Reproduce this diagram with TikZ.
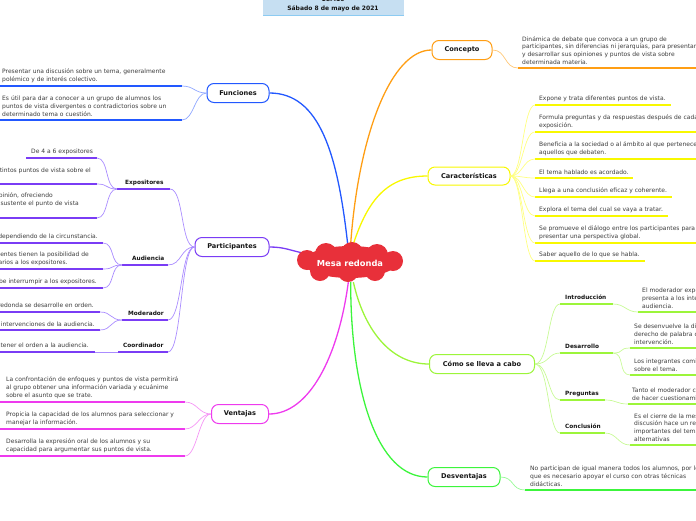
\documentclass[tikz,border=0pt]{standalone}
\usepackage{fontspec}
\setmainfont{DejaVu Sans}
\usetikzlibrary{shapes.geometric, backgrounds}

\definecolor{txtgray}{HTML}{3C3C3C}
\definecolor{titlec}{HTML}{151515}
\definecolor{headfill}{HTML}{C6DFF2}
\definecolor{headline}{HTML}{8CCBF2}
\definecolor{cloudred}{HTML}{E8303A}
\definecolor{funblue}{HTML}{2258FF}
\definecolor{funlink}{HTML}{8EA6FF}
\definecolor{conorange}{HTML}{FF9E14}
\definecolor{conlink}{HTML}{FFC878}
\definecolor{caryellow}{HTML}{F8F800}
\definecolor{carlink}{HTML}{FFFF80}
\definecolor{comolime}{HTML}{9CF53A}
\definecolor{comolink}{HTML}{C8FA96}
\definecolor{desgreen}{HTML}{3CF53C}
\definecolor{deslink}{HTML}{96FA96}
\definecolor{parpurple}{HTML}{7A3CF5}
\definecolor{parlink}{HTML}{AA8CFF}
\definecolor{venmag}{HTML}{EE3AEE}
\definecolor{venlink}{HTML}{F596F5}

\begin{document}
\begin{tikzpicture}[x=1pt, y=-1pt,
    topic/.style={draw, fill=white, rounded corners=7pt, line width=1pt, minimum height=19pt, inner sep=2pt, font=\bfseries\fontsize{6.6}{8}\selectfont, text=titlec},
    sublabel/.style={font=\bfseries\fontsize{5.8}{7}\selectfont, text=titlec, inner sep=0pt, anchor=base west},
    item/.style={font=\fontsize{6}{7.7}\selectfont, text=txtgray, align=left, inner sep=0pt},
    uline/.style={line width=1.6pt},
    link/.style={line width=0.7pt},
    branch/.style={line width=1.3pt}]
    \useasboundingbox (0,0) rectangle (696,520);

    % cabecera
    \fill[headfill] (263,-2) rectangle (404,15);
    \draw[headline, line width=1.6pt] (263,15.5) -- (404,15.5);
    \node[font=\bfseries\fontsize{6}{7}\selectfont, text=titlec, inner sep=0pt] (grupo) at (333,-0.6) {1CM10};
    \node[font=\bfseries\fontsize{6}{7}\selectfont, text=titlec, inner sep=0pt] (fecha) at (333,9) {Sábado 8 de mayo de 2021};

    % tema central
    \fill[cloudred] (350,262) ellipse [x radius=47, y radius=16];
    \foreach \cx/\cy/\r in {326/254/11, 352/253/11, 377/255/11, 307/260/10, 393/261/10,
        320/271/10, 348/272/10, 375/271/10} {
      \fill[cloudred] (\cx,\cy) circle [radius=\r];
    }
    \node[ellipse, minimum width=104pt, minimum height=38pt, inner sep=0pt, font=\bfseries\fontsize{8.3}{10}\selectfont, text=white] (mesa) at (350,263) {Mesa redonda};

    % ramas principales
    \node[topic, draw=funblue, minimum width=62pt] (fun) at (238,93) {Funciones};
    \node[topic, draw=conorange, minimum width=60pt] (con) at (462,50) {Concepto};
    \node[topic, draw=caryellow, minimum width=82pt, minimum height=18pt] (car) at (469,176) {Características};
    \node[topic, draw=parpurple, minimum width=74pt] (par) at (232,247) {Participantes};
    \node[topic, draw=comolime, minimum width=105pt] (como) at (482,364) {Cómo se lleva a cabo};
    \node[topic, draw=venmag, minimum width=57pt] (ven) at (240,414) {Ventajas};
    \node[topic, draw=desgreen, minimum width=72pt] (des) at (464,477) {Desventajas};

    \begin{scope}[on background layer]
      \draw[branch, funblue] (mesa.97) .. controls +(-10,-90) and +(50,0) .. (fun.east);
      \draw[branch, conorange] (mesa.88) .. controls +(8,-110) and +(-40,0) .. (con.west);
      \draw[branch, caryellow] (mesa.80) .. controls +(15,-45) and +(-40,0) .. (car.west);
      \draw[branch, parpurple] (mesa.168) .. controls +(-15,-3) and +(15,0) .. (par.east);
      \draw[branch, venmag] (mesa.-95) .. controls +(-10,75) and +(40,0) .. (ven.east);
      \draw[branch, comolime] (mesa.-80) .. controls +(10,45) and +(-40,0) .. (como.west);
      \draw[branch, desgreen] (mesa.-88) .. controls +(0,110) and +(-50,0) .. (des.west);
    \end{scope}

    % Funciones
    \foreach \n/\y/\t in {1/86/{Presentar una discusión sobre un tema, generalmente\\polémico y de interés colectivo.},
        2/120/{Es útil para dar a conocer a un grupo de alumnos los\\puntos de vista divergentes o contradictorios sobre un\\determinado tema o cuestión.}} {
      \coordinate (fun\n a) at (-2,\y);
      \coordinate (fun\n b) at (182,\y);
      \draw[uline, funblue] (fun\n a) -- (fun\n b);
      \node[item, anchor=south west] (funtxt\n) at ([xshift=4pt, yshift=3.5pt]fun\n a) {\t};
      \draw[link, funlink] (fun.west) .. controls +(-12,0) and +(12,0) .. (fun\n b);
    }

    % Concepto
    \coordinate (con1a) at (518,68);
    \coordinate (con1b) at (700,68);
    \draw[uline, conorange] (con1a) -- (con1b);
    \node[item, anchor=south west] (contxt) at ([xshift=4pt, yshift=3.5pt]con1a) {Dinámica de debate que convoca a un grupo de\\participantes, sin diferencias ni jerarquías, para presentar\\y desarrollar sus opiniones y puntos de vista sobre\\determinada materia.};
    \draw[link, conlink] (con.east) .. controls +(14,0) and +(-14,0) .. (con1a);

    % Caracteristicas
    \foreach \n/\y/\e/\t in {1/105/671/{Expone y trata diferentes puntos de vista.},
        2/132/700/{Formula preguntas y da respuestas después de cada\\exposición.},
        3/159/700/{Beneficia a la sociedad o al ámbito al que pertenecen\\aquellos que debaten.},
        4/178/633/{El tema hablado es acordado.},
        5/197/672/{Llega a una conclusión eficaz y coherente.},
        6/216/668/{Explora el tema del cual se vaya a tratar.},
        7/243/700/{Se promueve el diálogo entre los participantes para\\presentar una perspectiva global.},
        8/261/645/{Saber aquello de lo que se habla.}} {
      \coordinate (car\n a) at (535,\y);
      \coordinate (car\n b) at (\e,\y);
      \draw[uline, caryellow] (car\n a) -- (car\n b);
      \node[item, anchor=south west] (cartxt\n) at ([xshift=4pt, yshift=3.5pt]car\n a) {\t};
      \draw[link, carlink] (car.east) .. controls +(12,0) and +(-12,0) .. (car\n a);
    }

    % Como se lleva a cabo
    \foreach \n/\y/\e/\t in {intro/304/613/Introducción, desa/353/613/Desarrollo, preg/400/605/Preguntas, conc/433/605/Conclusión} {
      \coordinate (\n a) at (560,\y);
      \coordinate (\n b) at (\e,\y);
      \draw[uline, comolime] (\n a) -- (\n b);
      \node[sublabel] (\n lbl) at ([xshift=5pt, yshift=5pt]\n a) {\t};
      \draw[link, comolink] (como.east) .. controls +(14,0) and +(-12,0) .. (\n a);
    }
    \foreach \p/\n/\x/\y/\t in {intro/intro1/638/312/{El moderador expone el tema y\\presenta a los integrantes a la\\audiencia.},
        desa/desa1/630/348/{Se desenvuelve la discusión dando el\\derecho de palabra cada integrante en su\\intervención.},
        desa/desa2/630/375/{Los integrantes comienzan a exponer\\sobre el tema.},
        preg/preg1/628/404/{Tanto el moderador como la audiencia\\de hacer cuestionamientos.},
        conc/conc1/630/445/{Es el cierre de la mesa redonda, la\\discusión hace un resumen de los puntos\\importantes del tema y sus\\alternativas}} {
      \coordinate (\n a) at (\x,\y);
      \coordinate (\n b) at (700,\y);
      \draw[uline, comolime] (\n a) -- (\n b);
      \node[item, anchor=south west] (\n txt) at ([xshift=4pt, yshift=3.5pt]\n a) {\t};
      \draw[link, comolink] (\p b) .. controls +(12,0) and +(-12,0) .. (\n a);
    }

    % Desventajas
    \coordinate (des1a) at (525,490);
    \coordinate (des1b) at (700,490);
    \draw[uline, desgreen] (des1a) -- (des1b);
    \node[item, anchor=south west] (destxt) at ([xshift=5pt, yshift=3.5pt]des1a) {No participan de igual manera todos los alumnos, por lo\\que es necesario apoyar el curso con otras técnicas\\didácticas.};
    \draw[link, deslink] (des.east) .. controls +(14,0) and +(-14,0) .. (des1a);

    % Participantes
    \foreach \n/\x/\e/\y/\o/\t in {expo/117/170/189/8/Expositores, aud/122/168/265/10/Audiencia, mod/122/168/320/6/Moderador, coor/118/168/352/5/Coordinador} {
      \coordinate (\n a) at (\x,\y);
      \coordinate (\n b) at (\e,\y);
      \draw[uline, parpurple] (\n a) -- (\n b);
      \node[sublabel] (\n lbl) at ([xshift=\o pt, yshift=5pt]\n a) {\t};
      \draw[link, parlink] (par.west) .. controls +(-14,0) and +(14,0) .. (\n b);
    }
    \coordinate (expo1a) at (26,158);
    \coordinate (expo1b) at (97,158);
    \draw[uline, parpurple] (expo1a) -- (expo1b);
    \node[item, anchor=south west] (expo1txt) at ([xshift=5pt, yshift=3.5pt]expo1a) {De 4 a 6 expositores};
    \draw[link, parlink] (expoa) .. controls +(-12,0) and +(12,0) .. (expo1b);
    \foreach \p/\n/\e/\y/\x/\t in {expo/expo2/97/184/91/{Presentan distintos puntos de vista sobre el\\tema.},
        expo/expo3/97/218/79/{Expresan su opinión, ofreciendo\\evidencia que sustente el punto de vista\\propio.},
        aud/aud1/103/243/98/{El número varía dependiendo de la circunstancia.},
        aud/aud2/103/269/89/{Todos los asistentes tienen la posibilidad de\\hacer comentarios a los expositores.},
        aud/aud3/103/288/97/{No debe interrumpir a los expositores.},
        mod/mod1/100/312/94/{Vigila que la mesa redonda se desarrolle en orden.},
        mod/mod2/100/330/95/{Controla las intervenciones de la audiencia.},
        coor/coor1/95/352/89/{Encargado de mantener el orden a la audiencia.}} {
      \coordinate (\n a) at (-5,\y);
      \coordinate (\n b) at (\e,\y);
      \draw[uline, parpurple] (\n a) -- (\n b);
      \node[item, anchor=south east] (\n txt) at (\x,\y) [yshift=3.5pt] {\t};
      \draw[link, parlink] (\p a) .. controls +(-12,0) and +(12,0) .. (\n b);
    }

    % Ventajas
    \foreach \n/\y/\t in {1/402/{La confrontación de enfoques y puntos de vista permitirá\\al grupo obtener una información variada y ecuánime\\sobre el asunto que se trate.},
        2/429/{Propicia la capacidad de los alumnos para seleccionar y\\manejar la información.},
        3/456/{Desarrolla la expresión oral de los alumnos y su\\capacidad para argumentar sus puntos de vista.}} {
      \coordinate (ven\n a) at (-2,\y);
      \coordinate (ven\n b) at (185,\y);
      \draw[uline, venmag] (ven\n a) -- (ven\n b);
      \node[item, anchor=south west] (ventxt\n) at ([xshift=8pt, yshift=3.5pt]ven\n a) {\t};
      \draw[link, venlink] (ven.west) .. controls +(-12,0) and +(12,0) .. (ven\n b);
    }
\end{tikzpicture}
\end{document}
